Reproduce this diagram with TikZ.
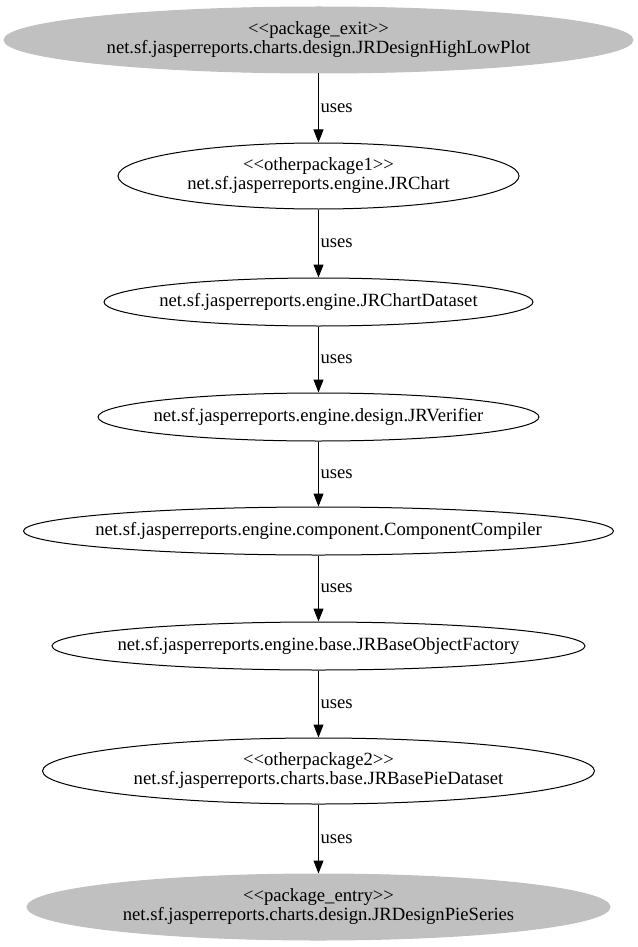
\documentclass[tikz,border=0pt]{standalone}
\usepackage{fontspec}
\setmainfont{Liberation Serif}
\usetikzlibrary{shapes.geometric,arrows.meta}
\definecolor{pkggray}{RGB}{192,192,192}
\newcommand{\zb}[1]{\makebox[0pt][c]{#1}}
\newcommand{\stlt}{<\kern0pt<}
\newcommand{\stgt}{>\kern0pt>}
\tikzset{
  every node/.style={font=\fontsize{18.67}{19}\selectfont},
  cls/.style={ellipse, draw=black, line width=1pt, inner sep=0pt, align=center},
  pkg/.style={ellipse, draw=pkggray, fill=pkggray, line width=1pt, inner sep=0pt, align=center},
  edge/.style={draw=black, line width=1pt, -{Triangle[length=13pt,width=10pt]}},
  lbl/.style={anchor=west, inner sep=0pt, xshift=1.5pt}
}
\begin{document}
\begin{tikzpicture}[x=1pt,y=-1pt]
\useasboundingbox (0,0) rectangle (637,947);
\node[pkg, minimum width=629pt, minimum height=66pt] (n1) at (318.5,40)
  {\zb{\stlt package\_exit\stgt}\\\zb{net.sf.jasperreports.charts.design.JRDesignHighLowPlot}};
\node[cls, minimum width=401pt, minimum height=66pt] (n2) at (318.5,176)
  {\zb{\stlt otherpackage1\stgt}\\\zb{net.sf.jasperreports.engine.JRChart}};
\node[cls, minimum width=429pt, minimum height=48pt] (n3) at (318.5,302)
  {\zb{net.sf.jasperreports.engine.JRChartDataset}};
\node[cls, minimum width=441pt, minimum height=48pt] (n4) at (318.5,417)
  {\zb{net.sf.jasperreports.engine.design.JRVerifier}};
\node[cls, minimum width=590pt, minimum height=48pt] (n5) at (318.5,531)
  {\zb{net.sf.jasperreports.engine.component.ComponentCompiler}};
\node[cls, minimum width=533pt, minimum height=48pt] (n6) at (318.5,646)
  {\zb{net.sf.jasperreports.engine.base.JRBaseObjectFactory}};
\node[cls, minimum width=552pt, minimum height=66pt] (n7) at (318.5,771)
  {\zb{\stlt otherpackage2\stgt}\\\zb{net.sf.jasperreports.charts.base.JRBasePieDataset}};
\node[pkg, minimum width=583pt, minimum height=66pt] (n8) at (318.5,907)
  {\zb{\stlt package\_entry\stgt}\\\zb{net.sf.jasperreports.charts.design.JRDesignPieSeries}};
\draw[edge] (n1) -- node[lbl] {uses} (n2);
\draw[edge] (n2) -- node[lbl] {uses} (n3);
\draw[edge] (n3) -- node[lbl] {uses} (n4);
\draw[edge] (n4) -- node[lbl] {uses} (n5);
\draw[edge] (n5) -- node[lbl] {uses} (n6);
\draw[edge] (n6) -- node[lbl] {uses} (n7);
\draw[edge] (n7) -- node[lbl] {uses} (n8);
\end{tikzpicture}
\end{document}
